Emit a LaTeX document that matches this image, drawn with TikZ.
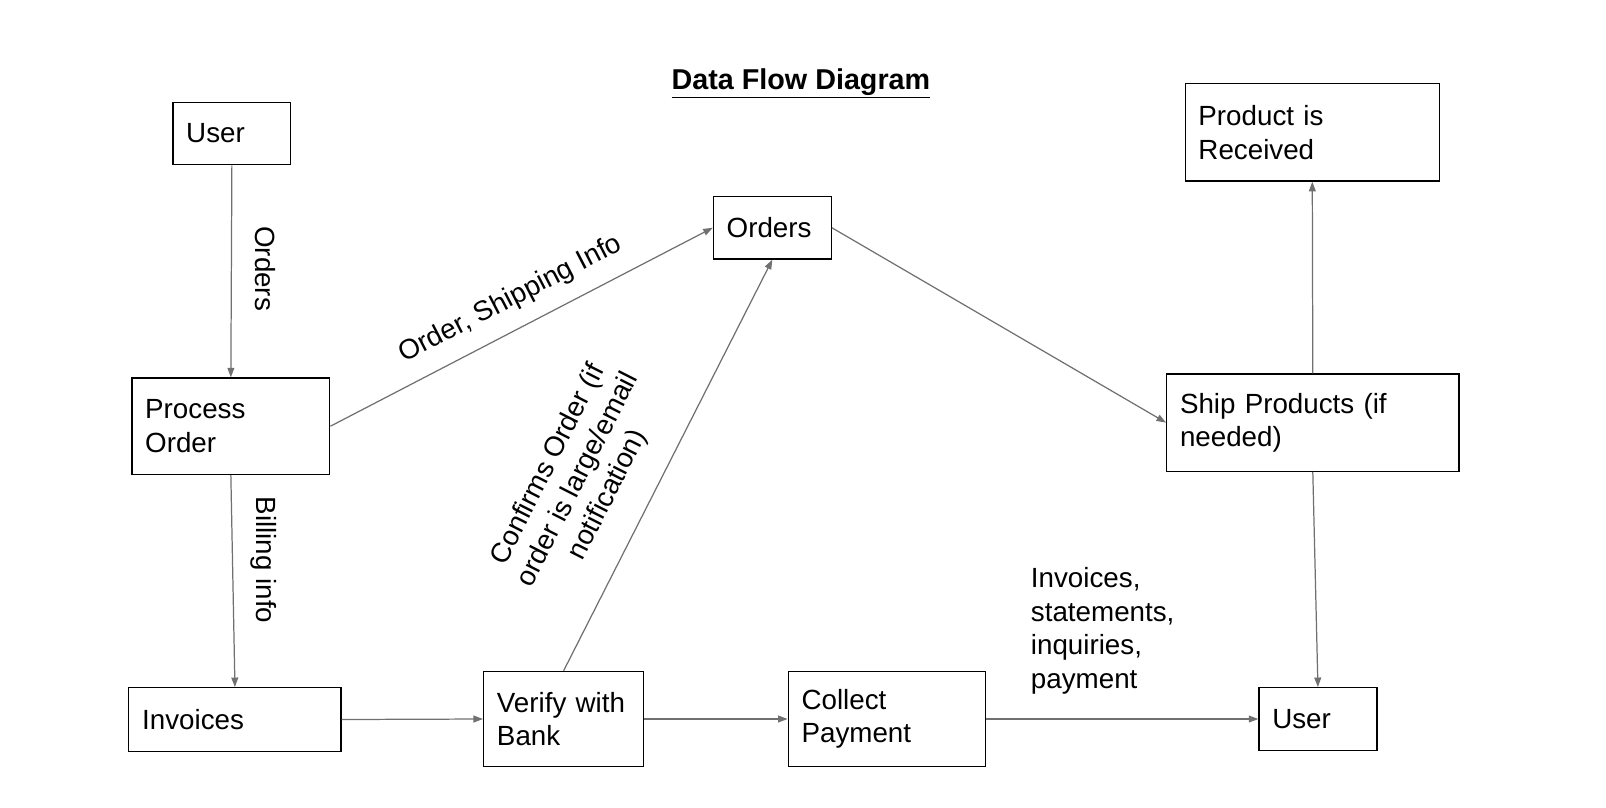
\documentclass[tikz,border=0pt]{standalone}
\usepackage{fontspec}
\setmainfont{Liberation Sans}
\usetikzlibrary{arrows.meta}
\definecolor{arrowgray}{HTML}{707070}
\tikzset{
  boxst/.style={draw=black, line width=0.9pt, anchor=north west, align=left, inner xsep=9.75pt, inner ysep=0pt,
    font=\fontsize{20.3}{24.5}\selectfont},
  flow/.style={draw=arrowgray, line width=0.9pt, -{Triangle[length=7pt,width=5pt]}},
  lbl/.style={font=\fontsize{20.3}{24.5}\selectfont, inner sep=0pt, align=center}
}
\begin{document}
\begin{tikzpicture}[x=0.75pt,y=-0.75pt]
\useasboundingbox (0,0) rectangle (1566,787);
% title
\node[font=\fontsize{21}{25}\selectfont\bfseries, inner sep=0pt] (title) at (781,81) {\underline{Data Flow Diagram}};
% boxes
\node[boxst, minimum height=45.75pt, text width=66.75pt] (user1) at (168,99) {User};
\node[boxst, minimum height=70.5pt, text width=125.25pt] (proc) at (128,368) {Process\\Order};
\node[boxst, minimum height=46.5pt, text width=135.75pt] (inv) at (125,670) {Invoices};
\node[boxst, minimum height=69.75pt, text width=97.5pt] (verify) at (471,654) {Verify with\\Bank};
\node[boxst, minimum height=69.75pt, text width=124.5pt] (collect) at (768,654) {Collect\\Payment};
\node[boxst, minimum height=45.75pt, text width=66.75pt] (user2) at (1227,670) {User};
\node[boxst, minimum height=45.75pt, text width=66.75pt] (orders) at (695,191) {Orders};
\node[boxst, minimum height=71.25pt, text width=194.25pt] (ship) at (1137,364) {Ship Products (if\\needed)};
\node[boxst, minimum height=71.25pt, text width=166.5pt] (recv) at (1155,81) {Product is\\Received};
% connectors
\draw[flow] (user1.south) -- (proc.north);
\draw[flow] (proc.south) -- (inv.north);
\draw[flow] (proc.east) -- (orders.west);
\draw[flow] (inv.east) -- (verify.west);
\draw[flow] (verify.north) -- (orders.south);
\draw[flow] (verify.east) -- (collect.west);
\draw[flow] (orders.east) -- (ship.west);
\draw[flow] (collect.east) -- (user2.west);
\draw[flow] (ship.north) -- (recv.south);
\draw[flow] (ship.south) -- (user2.north);
% labels
\node[lbl, rotate=-90] (l1) at (259,262) {Orders};
\node[lbl, rotate=-90] (l2) at (257,546) {Billing info};
\node[lbl, rotate=27.4] (l3) at (498,292) {Order, Shipping Info};
\node[lbl, rotate=63.1] (l4) at (564,468) {Confirms Order (if\\order is large/email\\notification)};
\node[lbl, align=left, anchor=north west] (l5) at (1005,553) {Invoices,\\statements,\\inquiries,\\payment};
\end{tikzpicture}
\end{document}
